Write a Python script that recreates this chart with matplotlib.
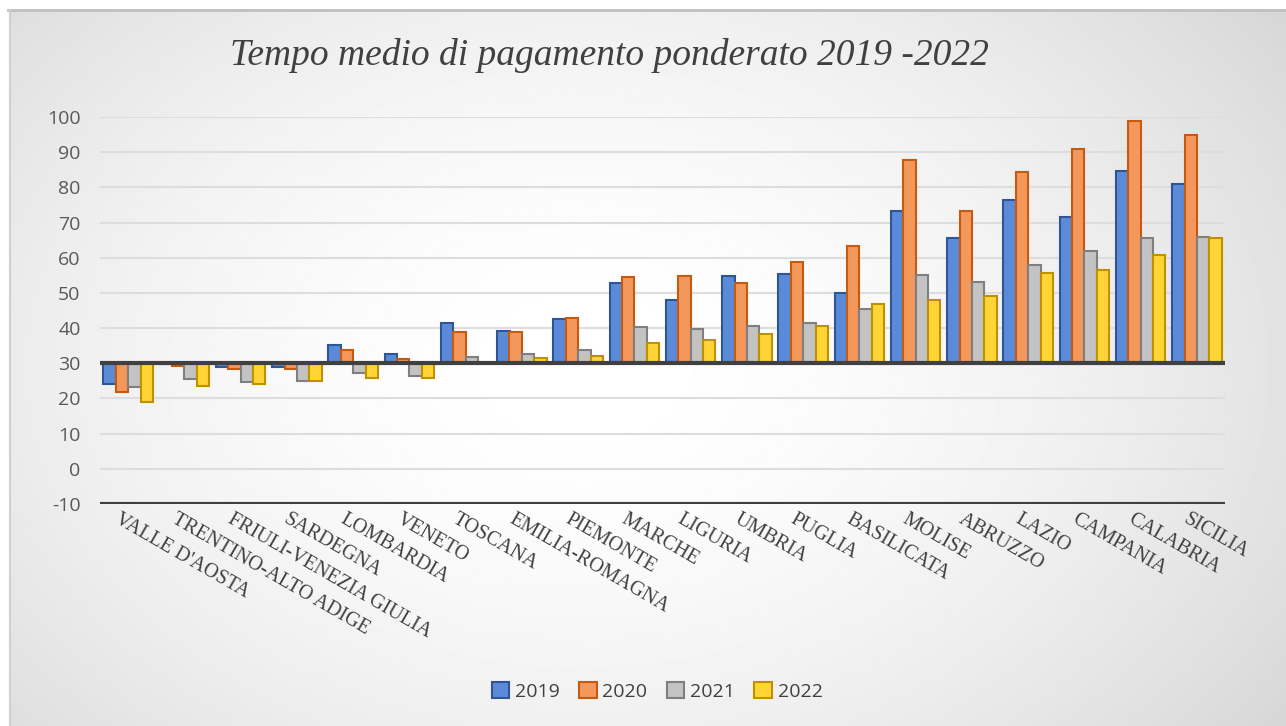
import matplotlib
matplotlib.use('Agg')
import matplotlib.pyplot as plt
import numpy as np

plt.rcParams['axes.unicode_minus'] = False

# Dati
regioni = ["VALLE D'AOSTA", 'TRENTINO-ALTO ADIGE', 'FRIULI-VENEZIA GIULIA', 'SARDEGNA',
           'LOMBARDIA', 'VENETO', 'TOSCANA', 'EMILIA-ROMAGNA', 'PIEMONTE', 'MARCHE',
           'LIGURIA', 'UMBRIA', 'PUGLIA', 'BASILICATA', 'MOLISE', 'ABRUZZO', 'LAZIO',
           'CAMPANIA', 'CALABRIA', 'SICILIA']
anni = ['2019', '2020', '2021', '2022']
v2019 = [24.0, 29.8, 29.0, 29.0, 35.3, 32.7, 41.5, 39.2, 42.5, 52.8,
         47.9, 54.7, 55.3, 50.0, 73.4, 65.7, 76.3, 71.6, 84.7, 81.0]
v2020 = [21.9, 29.3, 28.3, 28.5, 33.9, 31.2, 39.0, 38.8, 42.9, 54.6,
         54.8, 52.8, 58.9, 63.2, 87.8, 73.2, 84.3, 90.8, 98.8, 95.0]
v2021 = [23.3, 25.4, 24.7, 25.0, 27.3, 26.3, 31.7, 32.5, 33.8, 40.2,
         39.6, 40.6, 41.5, 45.5, 55.0, 53.0, 57.8, 62.0, 65.7, 66.0]
v2022 = [19.0, 23.5, 24.2, 25.0, 25.8, 25.8, 30.0, 31.5, 32.2, 35.9,
         36.6, 38.4, 40.6, 46.8, 48.0, 49.0, 55.7, 56.6, 60.7, 65.6]
serie = [v2019, v2020, v2021, v2022]
base = 30

facce = ['#5B8BD8', '#F4975A', '#C3C3C3', '#FFD535']
bordi = ['#2F5597', '#C55A11', '#7F7F7F', '#BF9000']

fig = plt.figure(figsize=(12.86, 7.26), dpi=100)
fig.patch.set_facecolor('white')

# sfondo sfumato (radiale)
bg = fig.add_axes([0, 0, 1, 1], zorder=-10)
xx, yy = np.meshgrid(np.linspace(0, 1, 400), np.linspace(0, 1, 300))
d = np.sqrt(((xx - 0.45) / 0.7) ** 2 + ((yy - 0.5) / 0.9) ** 2)
grad = 1.0 - 0.17 * np.clip(d, 0, 1) ** 1.8
bg.imshow(grad, cmap='gray', vmin=0, vmax=1, extent=[10 / 1286, 1, 0, 1 - 10 / 726],
          aspect='auto', origin='upper')
bg.set_xlim(0, 1)
bg.set_ylim(0, 1)
bg.axis('off')
bg.plot([8 / 1286, 1], [1 - 10 / 726] * 2, color='#BFBFBF', lw=2)
bg.plot([10 / 1286] * 2, [0, 1 - 10 / 726], color='#D0D0D0', lw=1.5)

ax = fig.add_axes([100 / 1286, 1 - 504 / 726, 1125 / 1286, 387 / 726])
ax.patch.set_alpha(0)

x = np.arange(len(regioni))
w = 0.22
for i, (vals, fc, ec, lab) in enumerate(zip(serie, facce, bordi, anni)):
    h = np.array(vals) - base
    ax.bar(x + (i - 1.5) * w, h, width=w, bottom=base, color=fc, edgecolor=ec,
           linewidth=1.5, label=lab, zorder=3)

ax.set_xlim(-0.5, len(regioni) - 0.5)
ax.set_ylim(-10, 100)
ax.set_yticks(np.arange(-10, 101, 10))
ax.yaxis.grid(True, color='#DDDDDD', lw=1.5, zorder=0)
ax.axhline(base, color='#404040', lw=3, zorder=4)
ax.axhline(-10, color='#404040', lw=3, zorder=4)
for s in ax.spines.values():
    s.set_visible(False)
ax.tick_params(axis='y', length=0, pad=14, labelsize=14, labelcolor='#595959')
ax.tick_params(axis='x', length=0, pad=4)
for t in ax.get_yticklabels():
    t.set_family('Open Sans')
ax.set_xticks(x - 0.12)
ax.set_xticklabels(regioni, rotation=-30, ha='left', va='top', rotation_mode='anchor',
                   family='Liberation Serif', fontsize=14.5, color='#404040')

fig.text(0.474, 0.924, 'Tempo medio di pagamento ponderato 2019 -2022',
         ha='center', va='center', family='Liberation Serif', style='italic',
         fontsize=27, color='#404040')

leg = fig.legend(loc='center', bbox_to_anchor=(0.511, 0.048), ncol=4, frameon=False,
                 handlelength=0.9, handleheight=0.9, handletextpad=0.3,
                 columnspacing=1.0, prop={'family': 'Open Sans', 'size': 14})
for t in leg.get_texts():
    t.set_color('#404040')

fig.savefig('out.png', dpi=100)
